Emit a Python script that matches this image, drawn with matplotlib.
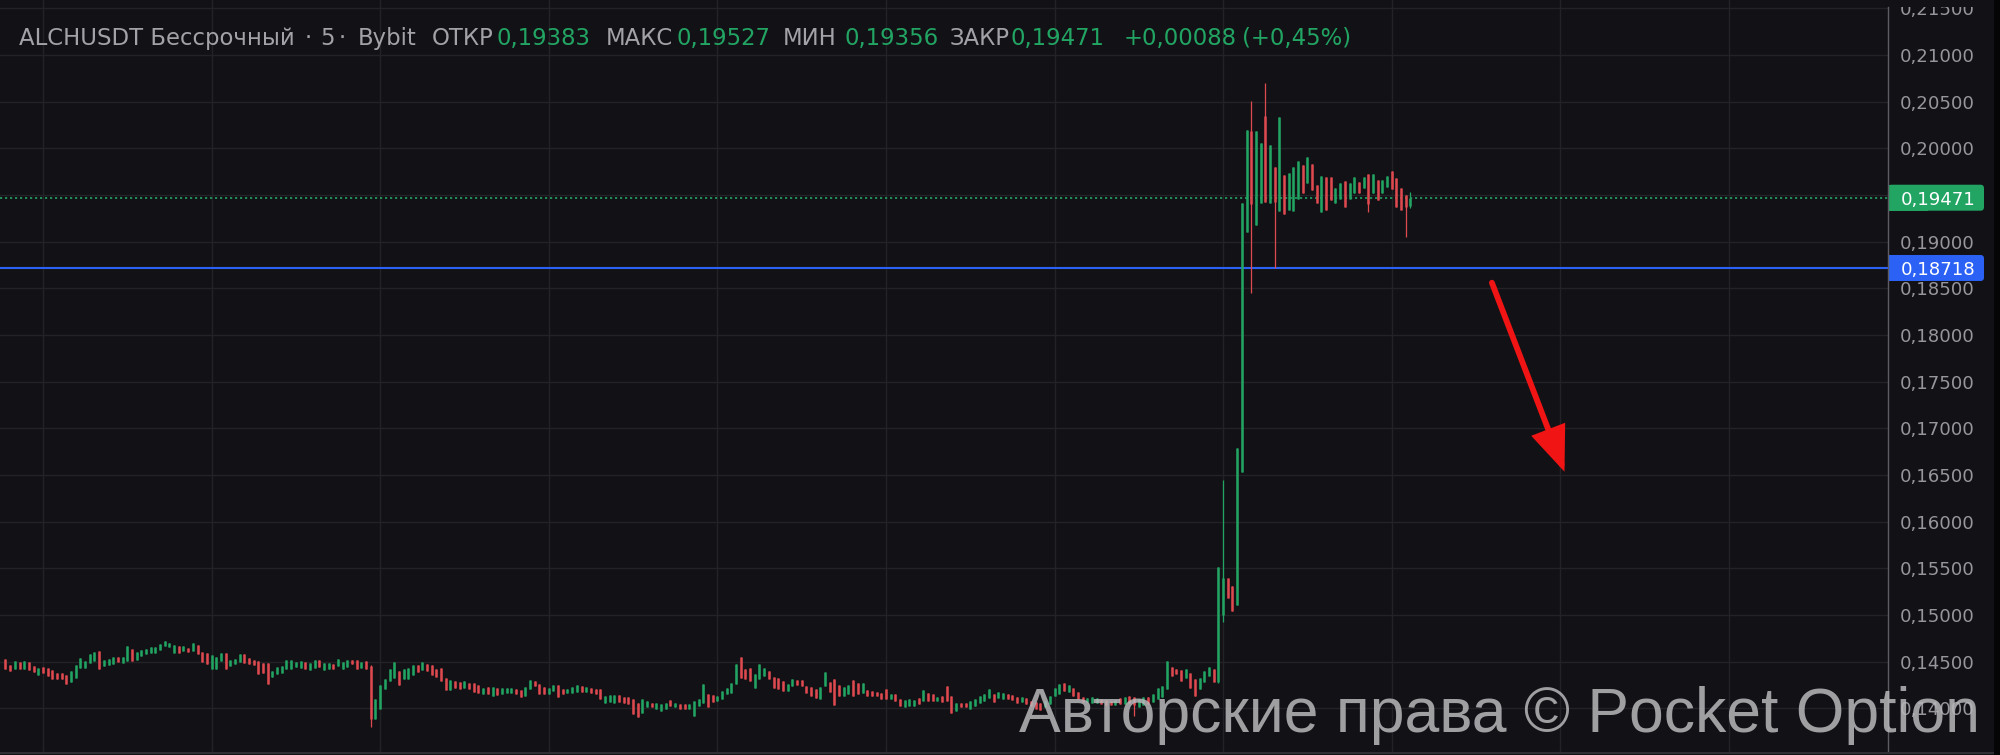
import numpy as np
import matplotlib
matplotlib.use("Agg")
import matplotlib.pyplot as plt
from matplotlib import transforms
from matplotlib.patches import Rectangle, FancyBboxPatch

# ---------------- data (prices in 1e-5 units) ----------------
opens = [
    14525, 14468, 14418, 14500, 14418, 14496, 14454, 14358, 14447, 14436,
    14407, 14383, 14375, 14354, 14283, 14322, 14429, 14436, 14482, 14507,
    14614, 14454, 14461, 14479, 14550, 14489, 14507, 14632, 14514, 14561,
    14578, 14596, 14596, 14621, 14667, 14657, 14589, 14667, 14614, 14650,
    14614, 14674, 14603, 14596, 14418, 14418, 14507, 14596, 14454, 14478,
    14496, 14578, 14536, 14514, 14507, 14489, 14482, 14336, 14365, 14375,
    14418, 14418, 14443, 14436, 14500, 14411, 14436, 14518, 14411, 14418,
    14479, 14454, 14425, 14443, 14518, 14514, 14429, 14507, 14454, 13884,
    13991, 14205, 14293, 14329, 14400, 14311, 14311, 14354, 14461, 14407,
    14472, 14461, 14418, 14436, 14329, 14197, 14293, 14283, 14222, 14276,
    14269, 14251, 14151, 14233, 14133, 14222, 14151, 14162, 14169, 14205,
    14197, 14133, 14205, 14293, 14258, 14229, 14151, 14187, 14247, 14212,
    14162, 14169, 14176, 14240, 14176, 14222, 14212, 14205, 14062, 14069,
    14062, 14140, 14126, 14126, 14098, 14062, 13955, 14019, 14062, 13991,
    13973, 13998, 14091, 14009, 14044, 14051, 13991, 13920, 14027, 14062,
    14151, 14140, 14080, 14098, 14151, 14169, 14258, 14553, 14418, 14436,
    14222, 14311, 14347, 14400, 14340, 14329, 14293, 14187, 14240, 14301,
    14304, 14240, 14233, 14205, 14098, 14240, 14283, 14311, 14247, 14133,
    14151, 14301, 14276, 14169, 14197, 14187, 14176, 14169, 14205, 14098,
    14151, 14098, 14019, 14027, 14027, 14116, 14080, 14169, 14151, 14080,
    14133, 14240, 14133, 13973, 14062, 14062, 13991, 14027, 14062, 14080,
    14116, 14152, 14106, 14099, 14149, 14142, 14117, 14064, 14106, 14082,
    14071, 14057, 14011, 14046, 14135, 14152, 14270, 14170, 14223, 14170,
    14117, 14064, 14057, 14057, 14099, 14092, 14082, 14035, 14106, 14046,
    14135, 14117, 14011, 14035, 14117, 14064, 14099, 14117, 14206, 14447,
    14426, 14411, 14330, 14383, 14312, 14206, 14277, 14348, 14418, 14284,
    15000, 15393, 15311, 15107, 16536, 19107, 20190, 19179, 19411, 20350,
    19411, 19804, 19332, 19714, 19339, 19332, 19454, 19821, 19625, 19832,
    19607, 19321, 19690, 19696, 19418, 19454, 19654, 19454, 19518, 19643,
    19571, 19725, 19525, 19661, 19518, 19589, 19761, 19679, 19571, 19500,
    19383,
]
highs = [
    14525, 14468, 14507, 14500, 14507, 14496, 14454, 14436, 14447, 14436,
    14407, 14383, 14375, 14354, 14400, 14461, 14536, 14507, 14578, 14603,
    14614, 14514, 14525, 14546, 14550, 14553, 14667, 14632, 14607, 14625,
    14639, 14657, 14657, 14692, 14717, 14703, 14682, 14667, 14667, 14650,
    14696, 14674, 14603, 14596, 14571, 14553, 14596, 14596, 14514, 14532,
    14578, 14578, 14536, 14514, 14507, 14489, 14482, 14400, 14447, 14454,
    14514, 14514, 14496, 14507, 14500, 14489, 14514, 14518, 14482, 14482,
    14479, 14525, 14496, 14518, 14518, 14514, 14496, 14507, 14460, 14105,
    14247, 14318, 14418, 14500, 14400, 14418, 14436, 14461, 14461, 14500,
    14472, 14461, 14418, 14436, 14329, 14301, 14293, 14283, 14293, 14276,
    14269, 14251, 14222, 14233, 14229, 14222, 14222, 14222, 14222, 14205,
    14197, 14233, 14301, 14293, 14258, 14229, 14222, 14247, 14247, 14212,
    14212, 14229, 14247, 14240, 14233, 14222, 14212, 14205, 14133, 14140,
    14140, 14140, 14126, 14126, 14098, 14062, 14098, 14080, 14062, 14055,
    14044, 14055, 14091, 14062, 14044, 14051, 14044, 14080, 14098, 14258,
    14151, 14140, 14133, 14187, 14222, 14276, 14479, 14553, 14418, 14436,
    14365, 14472, 14436, 14400, 14340, 14329, 14293, 14258, 14311, 14301,
    14304, 14240, 14233, 14205, 14233, 14390, 14283, 14311, 14247, 14233,
    14247, 14301, 14276, 14276, 14197, 14187, 14176, 14169, 14205, 14151,
    14151, 14098, 14091, 14105, 14091, 14116, 14197, 14169, 14151, 14122,
    14133, 14240, 14133, 14062, 14062, 14062, 14080, 14098, 14133, 14151,
    14212, 14152, 14177, 14163, 14149, 14142, 14117, 14117, 14106, 14082,
    14071, 14057, 14082, 14135, 14223, 14259, 14270, 14248, 14223, 14170,
    14117, 14106, 14117, 14106, 14099, 14092, 14082, 14092, 14106, 14117,
    14135, 14117, 14099, 14117, 14117, 14152, 14223, 14241, 14507, 14447,
    14426, 14411, 14418, 14383, 14312, 14330, 14401, 14447, 14418, 15518,
    16446, 15393, 15311, 16786, 19411, 20196, 20510, 20182, 20060, 20697,
    20036, 19804, 20339, 19714, 19732, 19804, 19864, 19821, 19904, 19832,
    19607, 19704, 19690, 19696, 19571, 19625, 19654, 19625, 19696, 19643,
    19696, 19725, 19725, 19661, 19661, 19704, 19761, 19679, 19571, 19500,
    19527,
]
lows = [
    14418, 14400, 14418, 14425, 14418, 14411, 14390, 14358, 14375, 14347,
    14311, 14311, 14311, 14258, 14283, 14322, 14429, 14436, 14482, 14507,
    14418, 14454, 14461, 14479, 14496, 14489, 14507, 14503, 14514, 14561,
    14578, 14596, 14596, 14621, 14667, 14657, 14589, 14596, 14614, 14607,
    14614, 14578, 14496, 14472, 14418, 14418, 14507, 14418, 14454, 14478,
    14496, 14489, 14478, 14464, 14365, 14375, 14258, 14336, 14365, 14375,
    14418, 14418, 14443, 14436, 14418, 14411, 14436, 14443, 14411, 14418,
    14418, 14454, 14425, 14443, 14472, 14418, 14429, 14425, 13795, 13884,
    13991, 14205, 14293, 14329, 14247, 14311, 14311, 14354, 14390, 14407,
    14400, 14354, 14340, 14293, 14197, 14197, 14222, 14205, 14222, 14205,
    14176, 14162, 14151, 14151, 14133, 14140, 14151, 14162, 14169, 14158,
    14126, 14133, 14205, 14240, 14151, 14151, 14151, 14187, 14126, 14151,
    14162, 14169, 14176, 14176, 14176, 14169, 14151, 14098, 14062, 14069,
    14062, 14069, 14062, 14044, 13938, 13902, 13955, 14019, 14009, 13991,
    13973, 13998, 14027, 14009, 13998, 13998, 13991, 13920, 14027, 14062,
    14009, 14069, 14080, 14098, 14151, 14169, 14258, 14329, 14311, 14293,
    14222, 14311, 14347, 14311, 14222, 14205, 14187, 14187, 14240, 14247,
    14240, 14169, 14133, 14116, 14098, 14240, 14176, 14034, 14133, 14133,
    14151, 14133, 14151, 14169, 14133, 14133, 14133, 14105, 14098, 14098,
    14080, 14027, 14019, 14027, 14027, 14044, 14080, 14080, 14080, 14080,
    14069, 14080, 13955, 13973, 14009, 14009, 13991, 14027, 14062, 14080,
    14116, 14071, 14106, 14099, 14099, 14092, 14057, 14064, 14046, 14021,
    13993, 13986, 14011, 14046, 14135, 14152, 14188, 14170, 14135, 14099,
    14064, 14064, 14057, 14057, 14046, 14035, 14035, 14035, 14046, 14046,
    14057, 13915, 14011, 14035, 14046, 14064, 14099, 14117, 14206, 14348,
    14365, 14294, 14330, 14213, 14135, 14206, 14277, 14348, 14284, 14275,
    14928, 15179, 15046, 15107, 16536, 19107, 18447, 19179, 19411, 19429,
    19411, 18714, 19332, 19296, 19339, 19332, 19454, 19525, 19625, 19554,
    19411, 19321, 19339, 19446, 19418, 19454, 19375, 19454, 19518, 19518,
    19571, 19321, 19525, 19446, 19518, 19589, 19561, 19375, 19339, 19054,
    19356,
]
closes = [
    14418, 14400, 14507, 14425, 14507, 14411, 14390, 14436, 14375, 14347,
    14311, 14311, 14311, 14258, 14400, 14461, 14536, 14507, 14578, 14603,
    14418, 14514, 14525, 14546, 14496, 14553, 14667, 14503, 14607, 14625,
    14639, 14657, 14657, 14692, 14717, 14703, 14682, 14596, 14667, 14607,
    14696, 14578, 14496, 14472, 14571, 14553, 14596, 14418, 14514, 14532,
    14578, 14489, 14478, 14464, 14365, 14375, 14258, 14400, 14447, 14454,
    14514, 14514, 14496, 14507, 14418, 14489, 14514, 14443, 14482, 14482,
    14418, 14525, 14496, 14518, 14472, 14418, 14496, 14425, 13890, 14105,
    14247, 14318, 14418, 14500, 14247, 14418, 14436, 14461, 14390, 14500,
    14400, 14354, 14340, 14293, 14197, 14301, 14222, 14205, 14293, 14205,
    14176, 14162, 14222, 14151, 14229, 14140, 14222, 14222, 14222, 14158,
    14126, 14233, 14301, 14240, 14151, 14151, 14222, 14247, 14126, 14151,
    14212, 14229, 14247, 14176, 14233, 14169, 14151, 14098, 14133, 14140,
    14140, 14069, 14062, 14044, 13938, 13902, 14098, 14080, 14009, 14055,
    14044, 14055, 14027, 14062, 13998, 13998, 14044, 14080, 14098, 14258,
    14009, 14069, 14133, 14187, 14222, 14276, 14479, 14329, 14311, 14293,
    14365, 14472, 14436, 14311, 14222, 14205, 14187, 14258, 14311, 14247,
    14240, 14169, 14133, 14116, 14233, 14390, 14176, 14034, 14133, 14233,
    14247, 14133, 14151, 14276, 14133, 14133, 14133, 14105, 14098, 14151,
    14080, 14027, 14091, 14105, 14091, 14044, 14197, 14080, 14080, 14122,
    14069, 14080, 13955, 14062, 14009, 14009, 14080, 14098, 14133, 14151,
    14212, 14071, 14177, 14163, 14099, 14092, 14057, 14117, 14046, 14021,
    13993, 13986, 14082, 14135, 14223, 14259, 14188, 14248, 14135, 14099,
    14064, 14106, 14117, 14106, 14046, 14035, 14035, 14092, 14046, 14117,
    14057, 14040, 14099, 14117, 14046, 14152, 14223, 14241, 14507, 14348,
    14365, 14294, 14418, 14213, 14135, 14330, 14401, 14447, 14284, 15518,
    15400, 15179, 15046, 16786, 19411, 20196, 19400, 20182, 20060, 19430,
    20036, 19420, 20339, 19296, 19732, 19804, 19864, 19525, 19904, 19554,
    19411, 19704, 19339, 19446, 19571, 19625, 19375, 19625, 19696, 19518,
    19696, 19400, 19725, 19446, 19661, 19704, 19561, 19375, 19339, 19370,
    19471,
]
PRICE_UNIT = 1e-5

price_ticks = [0.140, 0.145, 0.150, 0.155, 0.160, 0.165, 0.170, 0.175,
               0.180, 0.185, 0.190, 0.195, 0.200, 0.205, 0.210, 0.215]
time_grid_idx = [8, 44, 80, 116, 152, 188, 224, 260, 296, 332, 368]
last_price = 0.19471
level_price = 0.18718
arrow_start = (317.4, 0.18560)
arrow_end = (332.9, 0.16535)

header_parts = [
    ("ALCHUSDT Бессрочный", 19, "gray"),
    ("·", 305, "gray"),
    ("5", 320, "gray"),
    ("·", 339, "gray"),
    ("Bybit", 358, "gray"),
    ("ОТКР", 432, "gray"),
    ("0,19383", 497, "green"),
    ("МАКС", 606, "gray"),
    ("0,19527", 676, "green"),
    ("МИН", 783, "gray"),
    ("0,19356", 845, "green"),
    ("ЗАКР", 950, "gray"),
    ("0,19471", 1011, "green"),
    ("+0,00088", 1124, "green"),
    ("(+0,45%)", 1242, "green"),
]
watermark = "Авторские права © Pocket Option"

# ---------------- style ----------------
BG = "#121216"
GRID = "#222227"
GREEN = "#22a463"
RED = "#de4a4f"
BLUE = "#2b62f5"
AXTXT = "#96969c"
HDRTXT = "#a2a2a8"
ARROW = "#f01414"
FONT = ["DejaVu Sans"]

W, H = 2000, 755
DPI = 100
fig = plt.figure(figsize=(W / DPI, H / DPI), dpi=DPI)
fig.patch.set_facecolor(BG)

AX_RIGHT = 1888
ax = fig.add_axes([0, 3 / H, AX_RIGHT / W, 752 / H])
ax.set_facecolor(BG)
ax.set_xlim(-1.174, 401.98)
ax.set_ylim(0.135321, 0.215893)
for s in ax.spines.values():
    s.set_visible(False)
ax.set_xticks([])
ax.set_yticks([])

for p in price_ticks:
    ax.axhline(p, color=GRID, lw=1.0, zorder=0)
for i in time_grid_idx:
    ax.axvline(i, color=GRID, lw=1.0, zorder=0)

o = np.array(opens) * PRICE_UNIT
h = np.array(highs) * PRICE_UNIT
l = np.array(lows) * PRICE_UNIT
c = np.array(closes) * PRICE_UNIT
x = np.arange(len(o))
cols = [GREEN if cc >= oo else RED for oo, cc in zip(o, c)]

ax.axhline(level_price, color=BLUE, lw=1.5, zorder=2)
ax.axhline(last_price, color=GREEN, lw=1.2, ls=(0, (1.3, 1.7)), zorder=2)

ax.vlines(x, l, h, colors=cols, lw=0.9, zorder=3)
ax.vlines(x, np.minimum(o, c), np.maximum(o, c), colors=cols, lw=1.8, zorder=3)

ax.annotate("", xy=arrow_end, xytext=arrow_start,
            arrowprops=dict(arrowstyle="-|>,head_length=0.5,head_width=0.2",
                            lw=4.2, color=ARROW, shrinkA=0, shrinkB=0,
                            mutation_scale=50, joinstyle="miter"),
            zorder=6)

# ---------------- right price scale ----------------
blend = transforms.blended_transform_factory(fig.transFigure, ax.transData)


def off(dx, dy):
    return transforms.ScaledTranslation(dx / DPI, dy / DPI, fig.dpi_scale_trans)


for p in price_ticks:
    lab = f"{p:.5f}".replace(".", ",")
    ax.text(1900 / W, p, lab, transform=blend + off(0, -7), ha="left",
            va="baseline", color=AXTXT, fontsize=13.1, family=FONT,
            zorder=4, clip_on=False)

# price label boxes (square left edge at the axis line, rounded right corners)
for price, colr in [(last_price, GREEN), (level_price, BLUE)]:
    ypix = ax.transData.transform((0, price))[1]
    y0_in = (ypix - 13) / DPI
    fig.add_artist(FancyBboxPatch((AX_RIGHT / DPI, y0_in), 96 / DPI, 26 / DPI,
                                  boxstyle="round,pad=0,rounding_size=0.035",
                                  transform=fig.dpi_scale_trans, facecolor=colr,
                                  edgecolor="none", zorder=7))
    fig.add_artist(Rectangle((AX_RIGHT / DPI, y0_in), 40 / DPI, 26 / DPI,
                             transform=fig.dpi_scale_trans, facecolor=colr,
                             edgecolor="none", zorder=7))
    fig.text(1901 / W, (ypix - 7) / H, f"{price:.5f}".replace(".", ","),
             ha="left", va="baseline", color="white", fontsize=13.1,
             family=FONT, zorder=8)

# top strip of the scale panel, axis line, bottom border, right strip
fig.add_artist(Rectangle((AX_RIGHT / W, 1 - 7 / H), (W - AX_RIGHT) / W, 7 / H,
                         transform=fig.transFigure, facecolor=BG,
                         edgecolor="none", zorder=9))
fig.add_artist(plt.Line2D([AX_RIGHT / W, AX_RIGHT / W], [3 / H, 1 - 7 / H],
                          transform=fig.transFigure, color="#5c5c62", lw=1.0,
                          zorder=9))
fig.add_artist(plt.Line2D([0, 1], [2 / H, 2 / H], transform=fig.transFigure,
                          color="#2e2e33", lw=1.5, zorder=9))
fig.add_artist(Rectangle((1994 / W, 0), 6 / W, 1, transform=fig.transFigure,
                         facecolor="#050506", edgecolor="none", zorder=9))

# ---------------- header legend ----------------
base_y = 1 - 45 / H
for txt, px, kind in header_parts:
    fig.text(px / W, base_y, txt, ha="left", va="baseline",
             color=GREEN if kind == "green" else HDRTXT, fontsize=16.4,
             family=FONT, zorder=10)

# ---------------- watermark ----------------
fig.text(1019 / W, 1 - 732 / H, watermark, ha="left", va="baseline",
         color="#b9b9bc", alpha=0.85, fontsize=45,
         family=["Liberation Sans", "DejaVu Sans"], zorder=11)

fig.savefig("out.png", dpi=DPI, facecolor=BG)
